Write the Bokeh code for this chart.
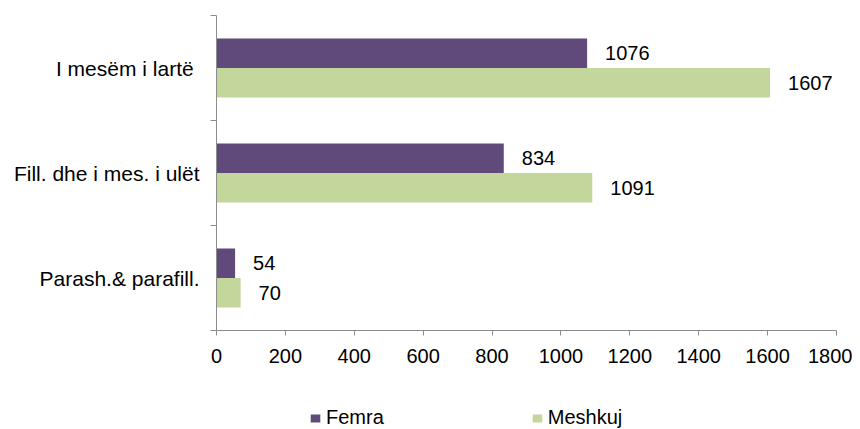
from bokeh.plotting import figure
from bokeh.layouts import column
from bokeh.models import Range1d, FixedTicker, Legend, LegendItem, ColumnDataSource
from bokeh.core.properties import value
from bokeh.embed import file_html
from bokeh.resources import INLINE

# ---- data (bottom to top) ----
categories = ["Parash.& parafill.", "Fill. dhe i mes. i ulët", "I mesëm i  lartë"]
femra = [54, 834, 1076]
meshkuj = [70, 1091, 1607]
series_names = ["Femra", "Meshkuj"]
x_ticks = [0, 200, 400, 600, 800, 1000, 1200, 1400, 1600, 1800]

FONT = "Liberation Sans"
PURPLE = "#604A7B"
GREEN = "#C3D69B"
AXIS = "#8C8C8C"
colors = [PURPLE, GREEN]

idx = list(range(len(categories)))
OFF = 0.14
BAR_H = 0.28

src = ColumnDataSource(dict(
    yf=[i + OFF for i in idx],
    ym=[i - OFF for i in idx],
    femra=femra,
    meshkuj=meshkuj,
    lf=[str(v) for v in femra],
    lm=[str(v) for v in meshkuj],
))

p = figure(width=852, height=375, output_backend="svg", toolbar_location=None,
           x_range=Range1d(0, 1800), y_range=Range1d(-0.5, len(categories) - 0.5),
           min_border_left=216, min_border_right=16, min_border_top=15, min_border_bottom=45)
p.outline_line_color = None
p.xgrid.visible = False
p.ygrid.visible = False
p.background_fill_color = "white"
p.border_fill_color = "white"

p.hbar(y="yf", left=0, right="femra", height=BAR_H, fill_color=PURPLE,
       line_color=None, source=src)
p.hbar(y="ym", left=0, right="meshkuj", height=BAR_H, fill_color=GREEN,
       line_color=None, source=src)

for col, ycol, lab in (("femra", "yf", "lf"), ("meshkuj", "ym", "lm")):
    p.text(x=col, y=ycol, text=lab, source=src,
           x_offset=18, text_align="left", text_baseline="middle",
           text_font=value(FONT), text_font_size="20px", text_color="black")

# x axis
xa = p.xaxis[0]
xa.ticker = FixedTicker(ticks=x_ticks, minor_ticks=[])
xa.axis_line_color = AXIS
xa.major_tick_line_color = AXIS
xa.major_tick_out = 5
xa.major_tick_in = 0
xa.minor_tick_line_color = None
xa.major_label_standoff = 13
xa.major_label_text_font = FONT
xa.major_label_text_font_size = "20px"
xa.major_label_text_color = "black"

# y axis
ya = p.yaxis[0]
ya.ticker = FixedTicker(ticks=idx, minor_ticks=[i - 0.5 for i in idx] + [len(idx) - 0.5])
ya.major_label_overrides = {i: c for i, c in zip(idx, categories)}
ya.axis_line_color = AXIS
ya.major_tick_line_color = None
ya.major_tick_out = 0
ya.major_tick_in = 0
ya.minor_tick_line_color = AXIS
ya.minor_tick_out = 6
ya.minor_tick_in = 0
ya.major_label_standoff = 11
ya.major_label_text_font = FONT
ya.major_label_text_font_size = "21px"
ya.major_label_text_color = "black"

# legend strip below the chart (legend swatches come from off-range bars)
pl = figure(width=852, height=54, output_backend="svg", toolbar_location=None,
            x_range=Range1d(0, 1), y_range=Range1d(0, 1),
            x_axis_location=None, y_axis_location=None,
            min_border_left=0, min_border_right=0, min_border_top=0, min_border_bottom=0)
pl.outline_line_color = None
pl.xgrid.visible = False
pl.ygrid.visible = False
pl.border_fill_color = "white"
pl.background_fill_color = "white"
items = []
for name, c, vals in zip(series_names, colors, (femra, meshkuj)):
    r = pl.hbar(y=[-10], left=[0], right=[vals[0]], height=0.1,
                fill_color=c, line_color=None)
    items.append(LegendItem(label=name, renderers=[r]))

legend = Legend(items=items, orientation="horizontal", location=(93, 0),
                label_text_font=FONT, label_text_font_size="20px",
                label_text_color="black",
                glyph_width=12, glyph_height=10, label_standoff=5,
                spacing=147, padding=0, margin=0,
                border_line_color=None, background_fill_alpha=0)
pl.add_layout(legend)

layout = column(p, pl, spacing=0)
open("out.html", "w").write(file_html(layout, INLINE))
